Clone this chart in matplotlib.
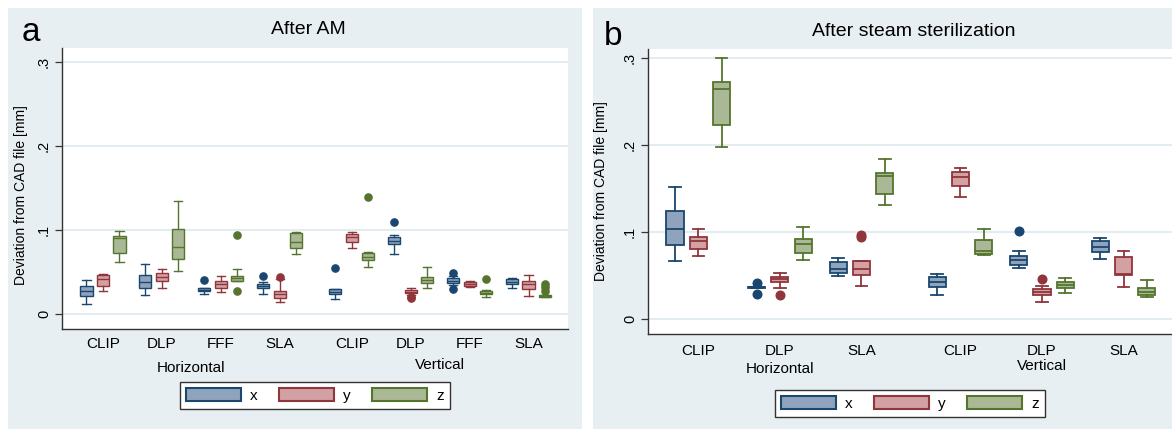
import matplotlib
matplotlib.use("Agg")
import matplotlib.pyplot as plt
from matplotlib.patches import Rectangle, Patch

plt.rcParams['font.family'] = ['Liberation Sans', 'DejaVu Sans']

# box stats per group: [whislo, q1, med, q3, whishi]
# panel a groups: CLIP, DLP, FFF, SLA (Horizontal), CLIP, DLP, FFF, SLA (Vertical)
a_labels = ['CLIP', 'DLP', 'FFF', 'SLA', 'CLIP', 'DLP', 'FFF', 'SLA']
a_x = [[0.012, 0.0216, 0.0272, 0.0337, 0.041],
       [0.0226, 0.0313, 0.0377, 0.0468, 0.0591],
       [0.0238, 0.027, 0.029, 0.0306, 0.031],
       [0.0238, 0.0306, 0.0333, 0.0353, 0.0385],
       [0.0175, 0.0234, 0.0266, 0.0294, 0.0296],
       [0.0714, 0.0833, 0.0873, 0.0913, 0.094],
       [0.0345, 0.0365, 0.0393, 0.0425, 0.045],
       [0.0306, 0.0357, 0.0385, 0.0413, 0.0433]]
a_x_out = [[], [], [0.0405], [0.0452], [0.0551], [0.1099], [0.0484, 0.0294], []]
a_y = [[0.0278, 0.0333, 0.0413, 0.0464, 0.048],
       [0.0313, 0.0393, 0.0444, 0.0492, 0.0532],
       [0.0262, 0.031, 0.0353, 0.0393, 0.0456],
       [0.0143, 0.0187, 0.0234, 0.0274, 0.042],
       [0.0782, 0.0857, 0.092, 0.0948, 0.098],
       [0.0226, 0.0246, 0.0266, 0.0286, 0.0306],
       [0.0317, 0.0337, 0.0357, 0.0377, 0.0393],
       [0.0218, 0.0298, 0.0353, 0.0393, 0.0464]]
a_y_out = [[], [], [], [0.044], [], [0.0205, 0.0192], [], []]
a_z = [[0.0619, 0.0722, 0.090, 0.0929, 0.0992],
       [0.0508, 0.0658, 0.0801, 0.1016, 0.1349],
       [0.0393, 0.0393, 0.0425, 0.0456, 0.0536],
       [0.0714, 0.0782, 0.086, 0.096, 0.0972],
       [0.0563, 0.0643, 0.0683, 0.0722, 0.0734],
       [0.0313, 0.0365, 0.0405, 0.0444, 0.0563],
       [0.0198, 0.0234, 0.0254, 0.0278, 0.028],
       [0.0198, 0.0198, 0.0214, 0.0226, 0.0226]]
a_z_out = [[], [], [0.094, 0.0278], [], [0.1389], [], [0.0417], [0.0353, 0.0318, 0.0278]]

# panel b groups: CLIP, DLP, SLA (Horizontal), CLIP, DLP, SLA (Vertical)
b_labels = ['CLIP', 'DLP', 'SLA', 'CLIP', 'DLP', 'SLA']
b_x = [[0.0665, 0.0856, 0.1036, 0.1246, 0.1517],
       [0.0355, 0.0355, 0.0365, 0.0375, 0.0375],
       [0.0497, 0.0527, 0.058, 0.0653, 0.0707],
       [0.0279, 0.0374, 0.0424, 0.0481, 0.0516],
       [0.0592, 0.0626, 0.068, 0.0726, 0.0787],
       [0.0692, 0.0775, 0.0833, 0.0902, 0.0929]]
b_x_out = [[], [0.0415, 0.0287], [], [], [0.1016], []]
b_y = [[0.073, 0.0803, 0.0902, 0.0948, 0.1039],
       [0.0355, 0.0431, 0.0459, 0.0489, 0.0527],
       [0.0382, 0.0508, 0.058, 0.0672, 0.0672],
       [0.1406, 0.1529, 0.1628, 0.1693, 0.1739],
       [0.0195, 0.0279, 0.0313, 0.0344, 0.0382],
       [0.0374, 0.0508, 0.052, 0.0711, 0.0787]]
b_y_out = [[], [0.0279], [0.0965, 0.094], [], [0.0459], []]
b_z = [[0.198, 0.2228, 0.2641, 0.2718, 0.2993],
       [0.068, 0.0764, 0.0864, 0.0921, 0.1055],
       [0.1311, 0.1437, 0.1647, 0.1674, 0.1838],
       [0.0734, 0.0749, 0.0787, 0.0909, 0.1032],
       [0.0305, 0.0362, 0.0397, 0.0431, 0.047],
       [0.026, 0.0279, 0.0317, 0.0362, 0.045]]
b_z_out = [[], [], [], [], [], []]

series_names = ['x', 'y', 'z']
fills = ['#90a3bc', '#d3a0a4', '#aab895']
edges = ['#1a476f', '#90353b', '#55752f']
bg = '#e8eff2'
grid_c = '#e3ecf0'

W, H = 1172, 429
fig = plt.figure(figsize=(W / 100, H / 100), dpi=100, facecolor='white')


def fx(px):
    return px / W


def fy(py):
    return 1 - py / H


fig.patches.append(Rectangle((fx(8), 0), fx(582) - fx(8), fy(8), transform=fig.transFigure,
                             facecolor=bg, edgecolor='none', zorder=-10))
fig.patches.append(Rectangle((fx(593), 0), 1 - fx(593), fy(8), transform=fig.transFigure,
                             facecolor=bg, edgecolor='none', zorder=-10))


def centers_for(n_per_side, step, gap):
    c = []
    for side in range(2):
        for k in range(n_per_side):
            c.append(side * (n_per_side * step + gap) + k * step)
    return c


def draw_panel(ax, data, outs, labels, centers, lw, ms, lab_pad, grp_y):
    for i in range(3):
        stats = []
        for g in range(len(centers)):
            lo, q1, med, q3, hi = data[i][g]
            stats.append({'whislo': lo, 'q1': q1, 'med': med, 'q3': q3,
                          'whishi': hi, 'fliers': outs[i][g]})
        pos = [c + (i - 1) for c in centers]
        ax.bxp(stats, positions=pos, widths=0.74, capwidths=0.5, patch_artist=True,
               manage_ticks=False,
               boxprops=dict(facecolor=fills[i], edgecolor=edges[i], lw=lw),
               medianprops=dict(color=edges[i], lw=lw),
               whiskerprops=dict(color=edges[i], lw=lw),
               capprops=dict(color=edges[i], lw=lw),
               flierprops=dict(marker='o', markerfacecolor=edges[i],
                               markeredgecolor=edges[i], markersize=ms))
    ax.set_yticks([0, 0.1, 0.2, 0.3], ['0', '.1', '.2', '.3'])
    for t in ax.get_yticklabels():
        t.set_rotation(90)
        t.set_va('center')
    ax.tick_params(axis='y', length=5, width=0.9, color='#333333', pad=3, labelsize=10.5)
    ax.set_xticks(centers, labels)
    ax.tick_params(axis='x', length=0, pad=lab_pad, labelsize=11)
    ax.grid(axis='y', color=grid_c, lw=1.4)
    ax.set_axisbelow(True)
    for s in ['top', 'right']:
        ax.spines[s].set_visible(False)
    for s in ['left', 'bottom']:
        ax.spines[s].set_color('#333333')
        ax.spines[s].set_linewidth(1.0)
    n = len(centers) // 2
    tr = ax.get_xaxis_transform()
    ax.text((centers[0] + centers[n - 1]) / 2, grp_y[0], 'Horizontal', transform=tr,
            ha='center', va='center', fontsize=11)
    ax.text((centers[n] + centers[-1]) / 2, grp_y[1], 'Vertical', transform=tr,
            ha='center', va='center', fontsize=11)


# panel a
ax1 = fig.add_axes([fx(62), fy(329), fx(568) - fx(62), fy(48) - fy(329)])
ca = centers_for(4, 3.57, 0.8)
draw_panel(ax1, [a_x, a_y, a_z], [a_x_out, a_y_out, a_z_out], a_labels, ca,
           1.0, 5.2, 6, (-0.139, -0.128))
ax1.set_xlim(-2.48, 28.18)
ax1.set_ylim(-0.0179, 0.3167)

# panel b
ax2 = fig.add_axes([fx(648), fy(334), 1 - fx(648), fy(49) - fy(334)])
cb = centers_for(3, 3.5, 0.75)
draw_panel(ax2, [b_x, b_y, b_z], [b_x_out, b_y_out, b_z_out], b_labels, cb,
           1.3, 6.2, 7.5, (-0.123, -0.112))
ax2.set_xlim(-2.16, 20.33)
ax2.set_ylim(-0.0169, 0.310)

for ax, xt, yt, lx, ly, tt, tx, ty, legc in [
        (ax1, 22, 41, 21, 195, 'After AM', 308, 30, (315, 395.5)),
        (ax2, 604, 45, 601, 191, 'After steam sterilization', 914, 31, (910, 403.5))]:
    fig.text(fx(xt), fy(yt), 'a' if ax is ax1 else 'b', fontsize=24, ha='left', va='baseline')
    fig.text(fx(lx), fy(ly), 'Deviation from CAD file [mm]', rotation=90,
             ha='center', va='center', fontsize=10)
    fig.text(fx(tx), fy(ty), tt, ha='center', va='center', fontsize=14)
    handles = [Patch(facecolor=fills[i], edgecolor=edges[i], lw=1.5, label=series_names[i])
               for i in range(3)]
    leg = fig.legend(handles=handles, loc='center', ncol=3,
                     bbox_to_anchor=(fx(legc[0]), fy(legc[1])),
                     fontsize=11, handlelength=3.6, handleheight=0.9,
                     handletextpad=0.6, columnspacing=1.4, borderpad=0.4,
                     fancybox=False, framealpha=1, edgecolor='#333333')
    leg.get_frame().set_linewidth(1.0)

fig.savefig('out.png', dpi=100, facecolor='white')
